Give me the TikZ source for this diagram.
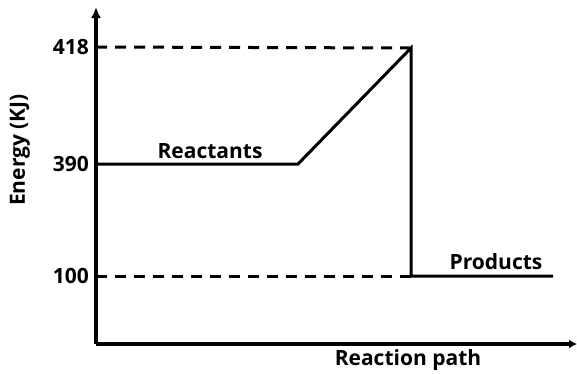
\documentclass[tikz,border=0pt]{standalone}
\usepackage{fontspec}
\setmainfont{Open Sans}
\usetikzlibrary{arrows.meta}
\begin{document}
\begin{tikzpicture}[x=1pt,y=-1pt,
  lbl/.style={font=\bfseries\fontsize{21}{25}\selectfont, inner sep=0pt},
  axis/.style={line width=3.4pt},
  lvl/.style={line width=3pt},
  dsh/.style={line width=3pt, dash pattern=on 11pt off 8pt}]
\useasboundingbox (0,0) rectangle (577,373);
\coordinate (O) at (96,344);
\coordinate (ytop) at (96,7);
\coordinate (xend) at (577,344);
\coordinate (y418) at (96,47);
\coordinate (y390) at (96,164);
\coordinate (y100) at (96,276);
\coordinate (rend) at (298,164);
\coordinate (peak) at (411,48);
\coordinate (pbot) at (411,276);
\coordinate (pend) at (553,276);
\draw[dsh] (y418) -- (peak);
\draw[dsh] (y100) -- (pbot);
\draw[lvl] (y390) -- (rend) -- (peak) -- (pbot) -- (pend);
\draw[axis,-{Latex[length=11pt,width=10pt]}] (O) -- (ytop);
\draw[axis,-{Latex[length=8pt,width=9pt]}] (O) -- (xend);
\node[lbl, anchor=east] (t418) at (89,47) {418};
\node[lbl, anchor=east] (t390) at (89,164) {390};
\node[lbl, anchor=east] (t100) at (89,276) {100};
\node[lbl, rotate=90] (ylab) at (20,150) {Energy (KJ)};
\node[lbl] (react) at (210,151) {Reactants};
\node[lbl] (prod) at (496,262) {Products};
\node[lbl] (xlab) at (408,360) {Reaction path};
\end{tikzpicture}
\end{document}
